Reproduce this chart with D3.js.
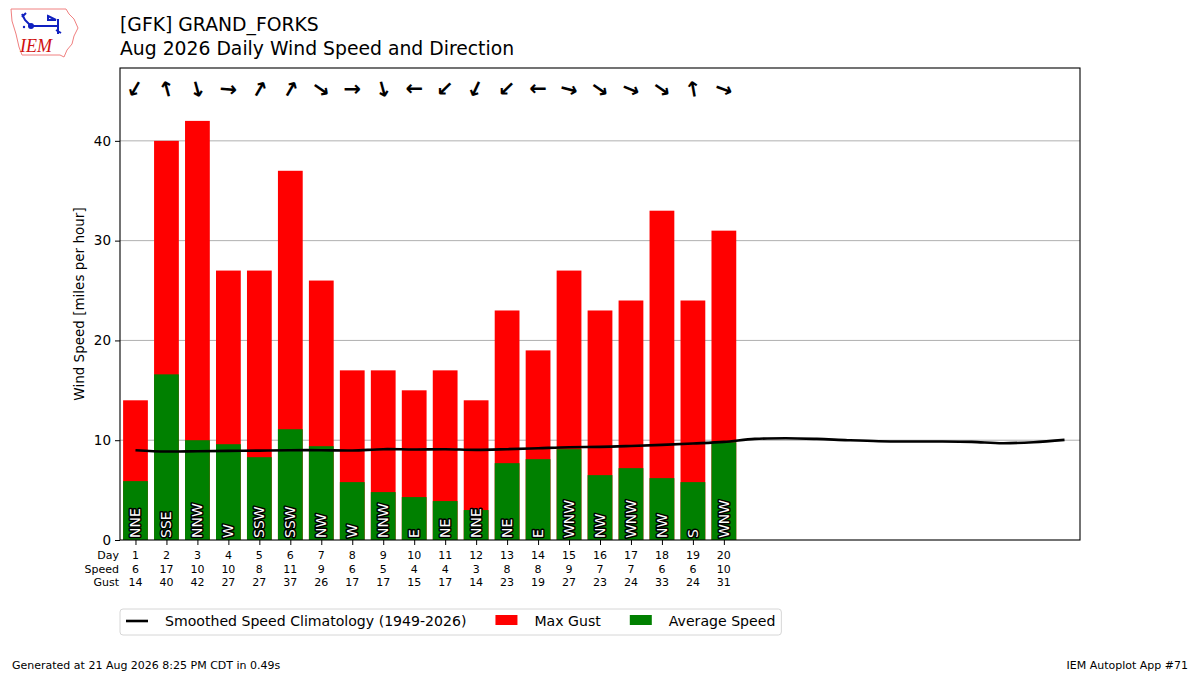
<!DOCTYPE html>
<html>
<head>
<meta charset="utf-8">
<script src="https://cdn.jsdelivr.net/npm/d3@7"></script>
<style>
  body { margin: 0; background: #fff; }
  svg { font-family: "DejaVu Sans", sans-serif; }
</style>
</head>
<body>
<svg id="chart" width="1200" height="675"></svg>
<script>
// --- data ---
const days = d3.range(1, 21);
const avgSpeed = [5.9, 16.6, 10.0, 9.6, 8.3, 11.1, 9.4, 5.8, 4.8, 4.3,
                  3.9, 3.0, 7.7, 8.1, 9.1, 6.5, 7.2, 6.2, 5.8, 9.8];
const maxGust = [14, 40, 42, 27, 27, 37, 26, 17, 17, 15,
                 17, 14, 23, 19, 27, 23, 24, 33, 24, 31];
const dirLabels = ["NNE", "SSE", "NNW", "W", "SSW", "SSW", "NW", "W", "NNW", "E",
                   "NE", "NNE", "NE", "E", "WNW", "NW", "WNW", "NW", "S", "WNW"];
// direction the wind comes from, degrees
const dirDegrees = [30, 165, 345, 275, 210, 210, 305, 270, 345, 90,
                    45, 25, 45, 90, 285, 305, 292, 305, 170, 290];
const climDays = d3.range(1, 32);
const climSpeed = [9.0, 8.87, 8.9, 8.93, 8.96, 9.0, 9.0, 8.97, 9.1, 9.07,
                   9.1, 9.03, 9.1, 9.2, 9.3, 9.33, 9.42, 9.53, 9.67, 9.83,
                   10.13, 10.2, 10.13, 10.0, 9.9, 9.87, 9.87, 9.83, 9.7, 9.8, 10.03];
const yTicks = [0, 10, 20, 30, 40];

const GUST_COLOR = "#ff0000";
const AVG_COLOR = "#008000";

const svg = d3.select("#chart");
const plotL = 120, plotR = 1080, plotT = 68, plotB = 540;

const x = d3.scaleLinear().domain([0.5, 31.5]).range([plotL, plotR]);
const y = d3.scaleLinear().domain([0, 47.3]).range([plotB, plotT]);
const barW = x(0.8) - x(0);

// logo (rough IEM mark)
const logo = svg.append("g");
logo.append("path")
    .attr("d", "M11,9 L66,9 L69,14 L74,19 L78,28 L74,36 L72,44 L67,50 L64,57 L60,55 L22,55 L19,47 L16,34 L12,21 Z")
    .attr("fill", "none").attr("stroke", "#f08080").attr("stroke-width", 1);
logo.append("path")
    .attr("d", "M31,26 L58,26 M31,26 L25,20 L22,14 M22,17 L26,13 M48,16 L56,20 L48,20 Z M58,19 L58,34 M56,30 L61,33")
    .attr("fill", "none").attr("stroke", "#1020c0").attr("stroke-width", 2);
logo.append("circle").attr("cx", 31).attr("cy", 26).attr("r", 3).attr("fill", "#1020c0");
logo.append("circle").attr("cx", 24).attr("cy", 27).attr("r", 1.2).attr("fill", "#1020c0");
logo.append("text").attr("x", 20).attr("y", 52)
    .attr("font-family", "Liberation Serif, serif").attr("font-style", "italic")
    .attr("font-size", 18).attr("fill", "#d01010").text("IEM");

// titles
svg.append("text").attr("x", plotL).attr("y", 31).attr("font-size", 18.8)
    .text("[GFK] GRAND_FORKS");
svg.append("text").attr("x", plotL).attr("y", 55).attr("font-size", 18.8)
    .text("Aug 2026 Daily Wind Speed and Direction");

// grid
svg.append("g").selectAll("line").data(yTicks.filter(d => d > 0)).join("line")
    .attr("x1", plotL).attr("x2", plotR)
    .attr("y1", d => y(d)).attr("y2", d => y(d))
    .attr("stroke", "#b0b0b0").attr("stroke-width", 1);

// bars
svg.append("g").selectAll("rect").data(days).join("rect")
    .attr("x", (d, i) => x(d) - barW / 2).attr("width", barW)
    .attr("y", (d, i) => y(maxGust[i])).attr("height", (d, i) => y(0) - y(maxGust[i]))
    .attr("fill", GUST_COLOR);
svg.append("g").selectAll("rect").data(days).join("rect")
    .attr("x", (d, i) => x(d) - barW / 2).attr("width", barW)
    .attr("y", (d, i) => y(avgSpeed[i])).attr("height", (d, i) => y(0) - y(avgSpeed[i]))
    .attr("fill", AVG_COLOR);

// climatology
svg.append("path").datum(climDays)
    .attr("d", d3.line().x(d => x(d)).y((d, i) => y(climSpeed[i])).curve(d3.curveCatmullRom))
    .attr("fill", "none").attr("stroke", "#000").attr("stroke-width", 2.6);

// direction labels in bars
svg.append("g").selectAll("text").data(days).join("text")
    .attr("transform", d => `translate(${x(d) + 5},${plotB - 2}) rotate(-90)`)
    .attr("font-size", 14).attr("fill", "#fff")
    .attr("stroke", "#000").attr("stroke-width", 3).attr("paint-order", "stroke")
    .attr("stroke-linejoin", "round")
    .text((d, i) => dirLabels[i]);

// wind arrows
svg.append("g").selectAll("text").data(days).join("text")
    .attr("transform", (d, i) => `translate(${x(d)},${y(45.2)}) rotate(${dirDegrees[i] + 90})`)
    .attr("text-anchor", "middle").attr("dominant-baseline", "central")
    .attr("font-size", 21).attr("font-weight", "bold")
    .text("\u2192");

// frame
svg.append("rect").attr("x", plotL).attr("y", plotT)
    .attr("width", plotR - plotL).attr("height", plotB - plotT)
    .attr("fill", "none").attr("stroke", "#000").attr("stroke-width", 1.1);

// y axis
const yAxis = svg.append("g").attr("transform", `translate(${plotL},0)`)
    .call(d3.axisLeft(y).tickValues(yTicks).tickSize(5).tickPadding(4));
yAxis.select(".domain").remove();
yAxis.selectAll("text").attr("font-size", 13.5).attr("font-family", "DejaVu Sans");
svg.append("text")
    .attr("transform", `translate(84,${(plotT + plotB) / 2}) rotate(-90)`)
    .attr("text-anchor", "middle").attr("font-size", 13.5)
    .text("Wind Speed [miles per hour]");

// x axis with table labels
const xAxis = svg.append("g").attr("transform", `translate(0,${plotB})`)
    .call(d3.axisBottom(x).tickValues(days).tickSize(5).tickFormat(""));
xAxis.select(".domain").remove();
const rows = [
  { name: "Day", vals: days.map(String) },
  { name: "Speed", vals: avgSpeed.map(v => String(Math.round(v))) },
  { name: "Gust", vals: maxGust.map(String) }
];
const table = svg.append("g").attr("font-size", 11);
rows.forEach((r, k) => {
  const yy = 559 + k * 13.5;
  table.append("text").attr("x", plotL - 1).attr("y", yy)
      .attr("text-anchor", "end").text(r.name);
  table.append("g").selectAll("text").data(days).join("text")
      .attr("x", d => x(d)).attr("y", yy).attr("text-anchor", "middle")
      .text((d, i) => r.vals[i]);
});

// legend
const legend = svg.append("g");
const legBox = legend.append("rect").attr("x", 120).attr("y", 609)
    .attr("height", 26).attr("rx", 3).attr("fill", "#fff")
    .attr("stroke", "#d6d6d6").attr("stroke-width", 1);
let lx = 126;
legend.append("line").attr("x1", lx).attr("x2", lx + 22).attr("y1", 621).attr("y2", 621)
    .attr("stroke", "#000").attr("stroke-width", 2.6);
let t = legend.append("text").attr("x", lx + 39).attr("y", 626).attr("font-size", 14.1)
    .text("Smoothed Speed Climatology (1949-2026)");
lx = lx + 39 + t.node().getComputedTextLength() + 29;
legend.append("rect").attr("x", lx).attr("y", 615).attr("width", 22).attr("height", 10).attr("fill", GUST_COLOR);
t = legend.append("text").attr("x", lx + 39).attr("y", 626).attr("font-size", 14.1).text("Max Gust");
lx = lx + 39 + t.node().getComputedTextLength() + 29;
legend.append("rect").attr("x", lx).attr("y", 615).attr("width", 22).attr("height", 10).attr("fill", AVG_COLOR);
t = legend.append("text").attr("x", lx + 39).attr("y", 626).attr("font-size", 14.1).text("Average Speed");
legBox.attr("width", lx + 39 + t.node().getComputedTextLength() + 6 - 120);

// footer
svg.append("text").attr("x", 12).attr("y", 669).attr("font-size", 11)
    .text("Generated at 21 Aug 2026 8:25 PM CDT in 0.49s");
svg.append("text").attr("x", 1188).attr("y", 669).attr("font-size", 11)
    .attr("text-anchor", "end").text("IEM Autoplot App #71");
</script>
</body>
</html>
